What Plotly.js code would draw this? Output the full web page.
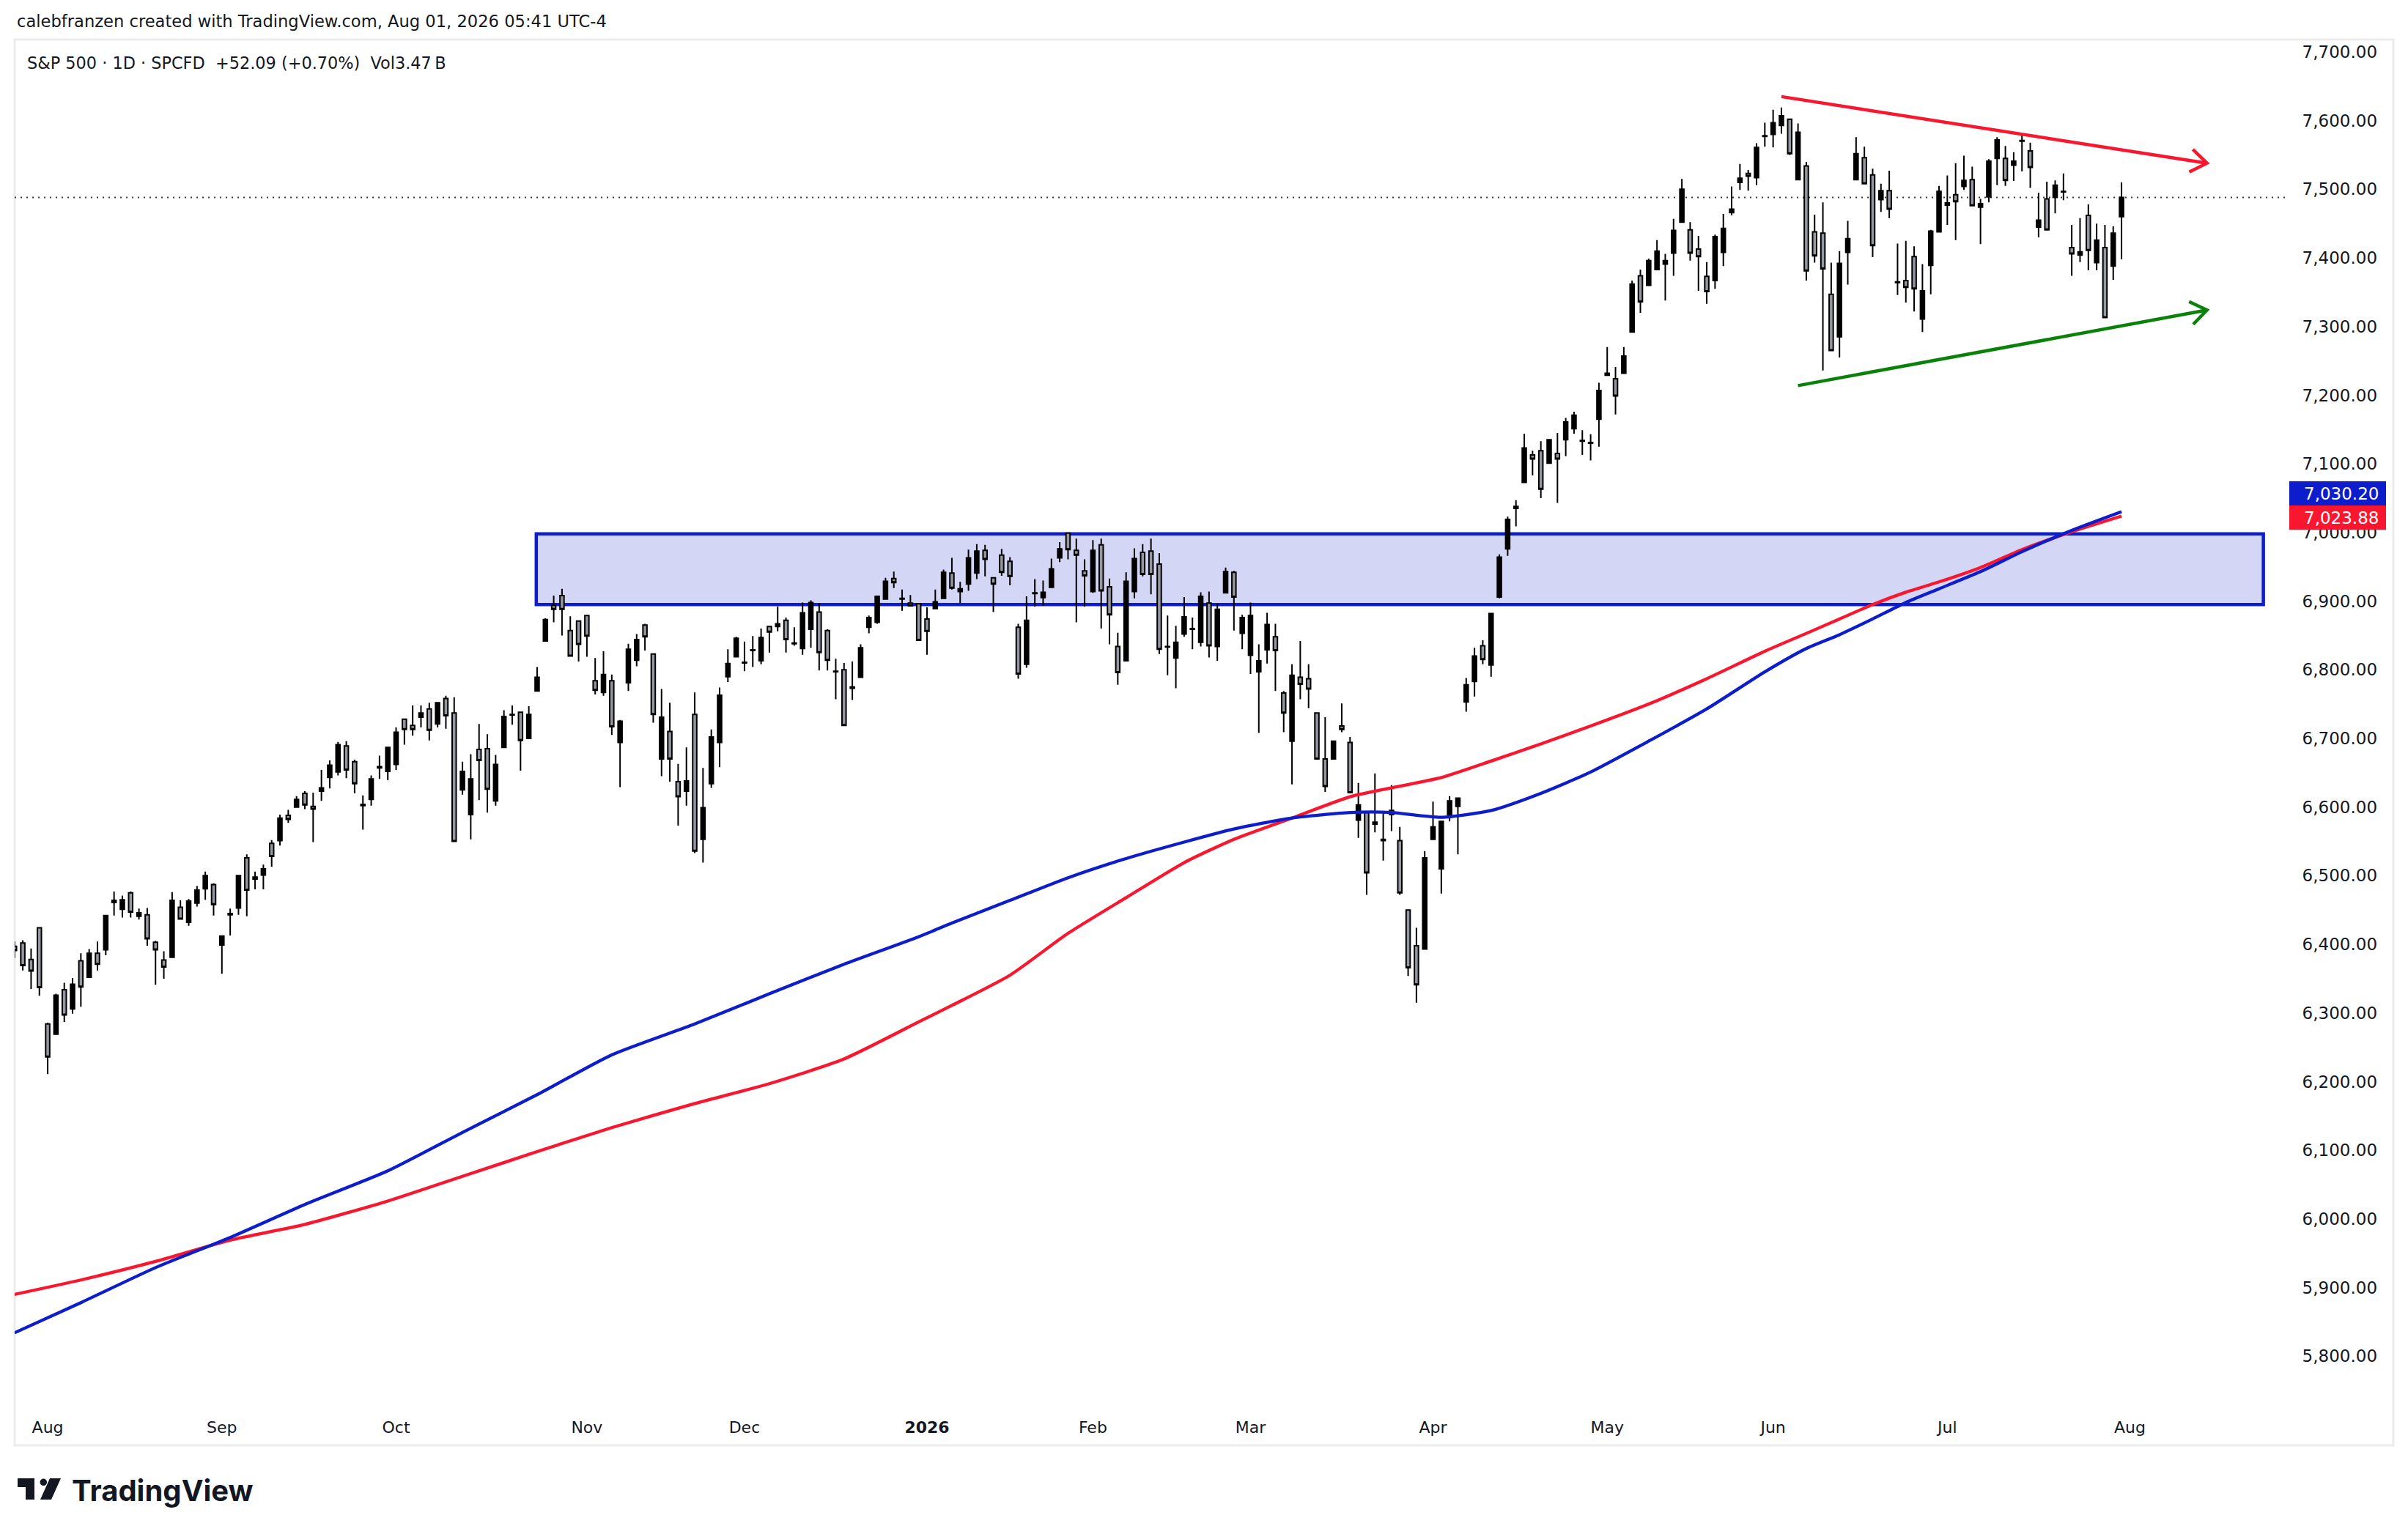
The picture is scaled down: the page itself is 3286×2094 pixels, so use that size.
<!DOCTYPE html>
<html>
<head>
<meta charset="utf-8">
<script src="https://cdn.plot.ly/plotly-3.0.1.min.js"></script>
<style>html,body{margin:0;padding:0;background:#fff;}#chart{width:3286px;height:2094px;}</style>
</head>
<body>
<div id="chart"></div>
<script>
// ---------- DATA ----------
// bar index 0 = Jul 28 2025 ... 254 = Jul 31 2026 (trading days)
const open = [6397,6402,6378,6424,6284,6269,6334,6306,6376,6352,
6387,6392,6461,6451,6475,6441,6443,6403,6377,6381,
6454,6432,6460,6481,6487,6399,6443,6453,6526,6495,
6501,6547,6551,6588,6600,6620,6601,6623,6643,6651,
6689,6666,6602,6611,6657,6652,6662,6728,6719,6731,
6743,6721,6758,6737,6625,6589,6684,6685,6609,6687,
6734,6738,6700,6769,6842,6894,6908,6857,6871,6879,
6784,6767,6784,6694,6781,6814,6865,6823,6670,6710,
6637,6623,6735,6553,6634,6694,6790,6819,6810,6828,
6813,6863,6863,6872,6838,6831,6859,6884,6857,6798,
6800,6773,6789,6862,6869,6903,6933,6903,6897,6896,
6874,6889,6904,6941,6914,6925,6941,6974,6934,6967,
6958,6862,6808,6911,6905,6920,6963,6999,6974,6944,
6914,6982,6921,6834,6813,6914,6971,6973,6954,6834,
6817,6852,6859,6840,6897,6834,6912,6942,6853,6821,
6797,6829,6848,6766,6696,6789,6787,6737,6670,6670,
6718,6694,6581,6592,6575,6551,6595,6551,6450,6398,
6393,6553,6510,6585,6601,6753,6783,6835,6807,6906,
6976,7035,7073,7113,7119,7101,7115,7135,7151,7133,
7130,7165,7232,7224,7232,7292,7374,7360,7383,7391,
7407,7452,7441,7413,7373,7367,7408,7466,7510,7523,
7517,7577,7580,7593,7602,7514,7534,7438,7436,7347,
7285,7408,7514,7546,7521,7485,7498,7364,7367,7402,
7311,7389,7438,7477,7492,7504,7514,7474,7489,7545,
7545,7535,7570,7556,7445,7486,7488,7496,7415,7404,
7462,7393,7415,7388,7460];

const high = [6404,6406,6394,6425,6286,6328,6344,6351,6387,6393,
6404,6443,6477,6471,6477,6452,6453,6405,6390,6476,
6464,6466,6485,6506,6489,6413,6452,6500,6531,6506,
6516,6552,6589,6596,6616,6623,6621,6654,6668,6695,
6696,6669,6617,6646,6675,6688,6716,6729,6748,6748,
6752,6752,6762,6760,6666,6677,6721,6706,6676,6741,
6748,6739,6747,6804,6875,6908,6918,6878,6872,6880,
6817,6827,6793,6727,6838,6852,6867,6824,6772,6752,
6663,6687,6767,6657,6713,6774,6830,6848,6841,6849,
6860,6864,6892,6876,6862,6898,6901,6897,6859,6816,
6810,6812,6837,6879,6908,6934,6943,6917,6909,6897,
6891,6917,6946,6963,6928,6975,6983,6982,6935,6976,
6964,6867,6907,6932,6930,6962,6986,7000,6991,6961,
6989,6991,6933,6854,6942,6977,6983,6991,6970,6879,
6864,6906,6876,6913,6914,6896,6949,6944,6880,6898,
6837,6883,6867,6769,6808,6842,6808,6738,6731,6697,
6751,6702,6635,6593,6649,6593,6632,6571,6451,6424,
6536,6608,6580,6616,6614,6788,6832,6843,6882,6968,
7023,7047,7144,7119,7133,7136,7145,7167,7176,7149,
7143,7218,7270,7241,7270,7367,7383,7399,7426,7406,
7457,7515,7452,7432,7394,7434,7464,7504,7537,7528,
7567,7597,7616,7619,7603,7596,7540,7463,7481,7393,
7410,7454,7576,7562,7530,7508,7527,7421,7425,7417,
7391,7441,7505,7520,7538,7549,7533,7486,7544,7576,
7563,7554,7579,7568,7495,7511,7513,7523,7448,7458,
7478,7450,7448,7446,7510];

const low = [6380,6362,6335,6325,6211,6268,6287,6299,6309,6351,
6362,6384,6442,6439,6439,6436,6398,6341,6350,6380,
6436,6427,6455,6465,6442,6357,6413,6443,6441,6480,
6480,6513,6544,6577,6599,6597,6549,6609,6627,6646,
6642,6620,6567,6602,6641,6639,6654,6691,6704,6716,
6697,6716,6714,6549,6618,6553,6610,6592,6602,6686,
6720,6653,6699,6768,6841,6869,6850,6819,6812,6819,
6764,6762,6705,6629,6769,6805,6828,6723,6645,6637,
6573,6602,6533,6519,6628,6658,6782,6818,6798,6804,
6808,6825,6856,6825,6835,6822,6832,6799,6799,6757,
6718,6756,6788,6853,6867,6902,6919,6886,6892,6842,
6822,6888,6903,6917,6897,6915,6932,6936,6884,6937,
6923,6787,6803,6892,6893,6919,6957,6961,6869,6892,
6912,6860,6837,6778,6812,6904,6936,6910,6823,6792,
6773,6848,6830,6834,6818,6813,6911,6857,6830,6794,
6708,6809,6769,6709,6633,6757,6744,6669,6622,6669,
6709,6620,6555,6472,6563,6522,6565,6472,6354,6315,
6392,6552,6474,6579,6531,6739,6761,6808,6790,6904,
6966,7009,7072,7083,7050,7100,7043,7111,7144,7113,
7105,7125,7228,7172,7231,7291,7320,7359,7382,7338,
7374,7451,7396,7352,7333,7355,7388,7462,7499,7498,
7506,7562,7561,7581,7550,7513,7367,7393,7236,7264,
7255,7361,7513,7507,7401,7467,7458,7346,7335,7322,
7292,7347,7437,7448,7426,7499,7475,7420,7481,7506,
7505,7512,7526,7502,7430,7440,7465,7484,7374,7394,
7382,7382,7312,7368,7398];

const close = [6391,6369,6361,6337,6236,6326,6297,6342,6338,6387,
6371,6442,6464,6465,6447,6446,6408,6392,6367,6464,
6437,6463,6479,6500,6458,6412,6445,6500,6479,6498,
6510,6528,6584,6582,6611,6603,6597,6628,6661,6691,
6654,6634,6604,6641,6659,6687,6709,6713,6713,6737,
6712,6752,6733,6550,6652,6641,6668,6626,6662,6732,
6735,6697,6735,6789,6873,6888,6888,6820,6837,6849,
6770,6793,6717,6725,6830,6844,6848,6735,6731,6670,
6615,6638,6536,6599,6702,6763,6809,6846,6811,6829,
6847,6855,6867,6844,6839,6883,6898,6825,6814,6797,
6719,6775,6832,6876,6907,6929,6927,6904,6893,6843,
6856,6899,6942,6919,6918,6963,6973,6961,6925,6942,
6936,6794,6872,6912,6913,6947,6976,6975,6967,6937,
6974,6915,6880,6796,6929,6962,6939,6939,6830,6833,
6840,6877,6860,6907,6835,6888,6943,6906,6876,6879,
6813,6866,6828,6737,6792,6779,6772,6670,6630,6696,
6713,6621,6603,6504,6578,6553,6589,6475,6366,6341,
6526,6571,6579,6609,6613,6778,6820,6815,6882,6964,
7019,7038,7123,7107,7063,7135,7107,7161,7171,7134,
7131,7207,7229,7199,7257,7362,7336,7396,7410,7396,
7440,7500,7407,7402,7351,7431,7443,7471,7516,7519,
7561,7578,7597,7607,7552,7583,7381,7403,7384,7265,
7392,7428,7552,7508,7418,7498,7471,7365,7357,7355,
7352,7439,7497,7480,7482,7513,7476,7479,7541,7572,
7513,7541,7571,7532,7455,7441,7506,7497,7406,7409,
7411,7426,7313,7436,7488.09];

// moving averages, sampled at these bar indexes
const maIdx  = [0,8,17,26,35,45,54,63,72,82,91,100,109,113,120,127,134,141,147,154,161,166,172,178,184,190,197,204,211,216,220,224,228,232,237,242,248,254];
const maBlue = [5834,5878,5929,5973,6021,6070,6126,6181,6239,6284,6328,6371,6411,6431,6464,6497,6525,6549,6568,6584,6592,6592,6585,6595,6620,6651,6696,6743,6797,6831,6851,6874,6898,6918,6943,6972,7003,7030.20];
const maRed  = [5890,5911,5938,5969,5992,6026,6062,6098,6133,6168,6197,6233,6287,6311,6355,6416,6468,6519,6553,6584,6615,6628,6643,6667,6692,6718,6750,6787,6827,6853,6874,6895,6913,6928,6949,6975,7001,7023.88];

// time-axis labels (first trading day of each month)
const monthTickIdx  = [4,25,46,69,88,110,130,149,171,192,212,233,255];
const monthTickText = ['Aug','Sep','Oct','Nov','Dec','<b>2026</b>','Feb','Mar','Apr','May','Jun','Jul','Aug'];
const priceTicks = [5800,5900,6000,6100,6200,6300,6400,6500,6600,6700,6800,6900,7000,7100,7200,7300,7400,7500,7600,7700];

const headerText = 'calebfranzen created with TradingView.com, Aug 01, 2026 05:41 UTC-4';
const symbolText = 'S&amp;P 500 · 1D · SPCFD';
const volumeText = 'Vol3.47\u202FB';

// ---------- drawings (positions in data units) ----------
const zone = {x0: 62.9, x1: 271.1, y0: 6895, y1: 6998};
const redTrend = {x0: 213.0, y0: 7635, x1: 264.3, y1: 7538};
const greenTrend = {x0: 215.0, y0: 7214, x1: 264.3, y1: 7324};

// ---------- layout geometry ----------
const W = 3286, H = 2094;
const L = 20, T = 54, PW = 3100, PH = 1871;
const XR = [0.018, 273.87];
const YR = [5721.3, 7718.1];
const px = X => (X - L) / PW;
const py = Y => (T + PH - Y) / PH;
const kx = PW / (XR[1] - XR[0]);
const ky = PH / (YR[1] - YR[0]);

const idx = open.map((_, i) => i);
const BLUE = '#0d1dcc', RED = '#f8172e', GREEN = '#0a820a', INK = '#131722';
const AXFONT = 'DejaVu Sans';

const last = close.length - 1;
const chg = close[last] - close[last - 1];
const pct = chg / close[last - 1] * 100;
const fmt2 = v => v.toLocaleString('en-US', {minimumFractionDigits: 2, maximumFractionDigits: 2});

const traces = [
  {type: 'scatter', mode: 'lines', x: maIdx, y: maRed, line: {color: RED, width: 4.3, shape: 'spline', smoothing: 0.6}, hoverinfo: 'skip'},
  {type: 'scatter', mode: 'lines', x: maIdx, y: maBlue, line: {color: BLUE, width: 4.3, shape: 'spline', smoothing: 0.6}, hoverinfo: 'skip'},
  {type: 'candlestick', x: idx, open: open, high: high, low: low, close: close,
   increasing: {line: {color: '#000000', width: 2}, fillcolor: '#000000'},
   decreasing: {line: {color: '#000000', width: 2}, fillcolor: '#9598a1'},
   whiskerwidth: 0, hoverinfo: 'skip'}
];

function chevron(tr, color) {
  const ang = Math.atan2((tr.y1 - tr.y0) * ky, (tr.x1 - tr.x0) * kx);
  const back = ang + Math.PI, spread = 0.62, len = 27;
  const a1 = [len * Math.cos(back + spread), len * Math.sin(back + spread)];
  const a2 = [len * Math.cos(back - spread), len * Math.sin(back - spread)];
  return {type: 'path', xref: 'x', yref: 'y', xsizemode: 'pixel', ysizemode: 'pixel',
    xanchor: tr.x1, yanchor: tr.y1,
    path: `M ${a1[0].toFixed(2)},${a1[1].toFixed(2)} L 0,0 L ${a2[0].toFixed(2)},${a2[1].toFixed(2)}`,
    line: {color: color, width: 4.5}, layer: 'above'};
}

const shapes = [
  // chart frame
  {type: 'rect', xref: 'paper', yref: 'paper', x0: px(20), x1: px(3266), y0: py(54), y1: py(1973),
   line: {color: '#ececec', width: 3}, fillcolor: 'rgba(0,0,0,0)', layer: 'below'},
  // resistance zone
  {type: 'rect', xref: 'x', yref: 'y', x0: zone.x0, x1: zone.x1, y0: zone.y0, y1: zone.y1,
   fillcolor: '#d4d6f5', line: {color: BLUE, width: 4.5}, layer: 'below'},
  // last price dotted line
  {type: 'line', xref: 'paper', yref: 'y', x0: 0, x1: px(3118), y0: close[last], y1: close[last],
   line: {color: '#3a3a3a', width: 2, dash: '2px,6px'}, layer: 'below'},
  // trend lines
  {type: 'line', xref: 'x', yref: 'y', x0: redTrend.x0, y0: redTrend.y0, x1: redTrend.x1, y1: redTrend.y1,
   line: {color: RED, width: 4.5}, layer: 'above'},
  chevron(redTrend, RED),
  {type: 'line', xref: 'x', yref: 'y', x0: greenTrend.x0, y0: greenTrend.y0, x1: greenTrend.x1, y1: greenTrend.y1,
   line: {color: GREEN, width: 4.5}, layer: 'above'},
  chevron(greenTrend, GREEN),
  // price-scale labels for the averages
  {type: 'rect', xref: 'paper', yref: 'paper', x0: px(3124), x1: px(3256), y0: py(690), y1: py(657),
   fillcolor: BLUE, line: {width: 0}},
  {type: 'rect', xref: 'paper', yref: 'paper', x0: px(3124), x1: px(3256), y0: py(723), y1: py(690),
   fillcolor: RED, line: {width: 0}},
  // TradingView logo mark
  {type: 'path', xref: 'paper', yref: 'paper',
   path: `M ${px(24)},${py(2018)} L ${px(47)},${py(2018)} L ${px(47)},${py(2047)} L ${px(35)},${py(2047)} L ${px(35)},${py(2030)} L ${px(24)},${py(2030)} Z`,
   fillcolor: INK, line: {width: 0}},
  {type: 'circle', xref: 'paper', yref: 'paper', x0: px(54.5), x1: px(64.1), y0: py(2028.1), y1: py(2018.5),
   fillcolor: INK, line: {width: 0}},
  {type: 'path', xref: 'paper', yref: 'paper',
   path: `M ${px(68)},${py(2018)} L ${px(83)},${py(2018)} L ${px(70)},${py(2047)} L ${px(55)},${py(2047)} Z`,
   fillcolor: INK, line: {width: 0}}
];

const annotations = [
  {xref: 'paper', yref: 'paper', x: px(21), y: py(29), xanchor: 'left', yanchor: 'middle', showarrow: false,
   text: headerText, font: {family: 'DejaVu Sans', size: 22.6, color: INK}},
  {xref: 'paper', yref: 'paper', x: px(35), y: py(86), xanchor: 'left', yanchor: 'middle', showarrow: false,
   text: symbolText + '\u00a0\u00a0' + (chg >= 0 ? '+' : '') + chg.toFixed(2) + ' (' + (pct >= 0 ? '+' : '') + pct.toFixed(2) + '%)\u00a0\u00a0' + volumeText,
   font: {family: 'DejaVu Sans', size: 22.4, color: INK}},
  {xref: 'paper', yref: 'paper', x: px(3142), y: py(673.5), xanchor: 'left', yanchor: 'middle', showarrow: false,
   text: fmt2(maBlue[maBlue.length - 1]), font: {family: AXFONT, size: 23, color: '#ffffff'}},
  {xref: 'paper', yref: 'paper', x: px(3142), y: py(706.5), xanchor: 'left', yanchor: 'middle', showarrow: false,
   text: fmt2(maRed[maRed.length - 1]), font: {family: AXFONT, size: 23, color: '#ffffff'}},
  {xref: 'paper', yref: 'paper', x: px(96), y: py(2034), xanchor: 'left', yanchor: 'middle', showarrow: false,
   text: 'TradingView', font: {family: 'Inter', size: 40, weight: 700, color: INK}}
];

const layout = {
  width: W, height: H,
  margin: {l: L, r: W - L - PW, t: T, b: H - T - PH, pad: 0},
  paper_bgcolor: '#ffffff', plot_bgcolor: '#ffffff',
  showlegend: false,
  xaxis: {range: XR, showgrid: false, zeroline: false, showline: false,
    tickvals: monthTickIdx, ticktext: monthTickText,
    ticks: 'outside', ticklen: 4, tickcolor: 'rgba(0,0,0,0)',
    tickfont: {family: AXFONT, size: 22, color: INK},
    rangeslider: {visible: false}, fixedrange: true},
  yaxis: {range: YR, side: 'right', showgrid: false, zeroline: false, showline: false,
    tickvals: priceTicks, tickformat: ',.2f',
    ticks: 'outside', ticklen: 16, tickcolor: 'rgba(0,0,0,0)',
    tickfont: {family: AXFONT, size: 23, color: INK}, fixedrange: true},
  shapes: shapes,
  annotations: annotations,
  boxgap: 0.3
};

Plotly.newPlot('chart', traces, layout, {displayModeBar: false, staticPlot: true});
</script>
</body>
</html>
